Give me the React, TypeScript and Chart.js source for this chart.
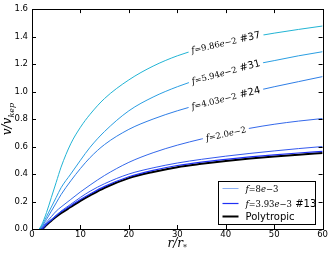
import React, { useEffect, useRef } from 'react';
import { Chart, registerables } from 'chart.js';
Chart.register(...registerables);

// radius r / r_*
const rValues = [1.5, 2, 3, 4, 5, 6, 8, 10, 12, 15, 20, 25, 30, 35, 40, 45, 50, 55, 60];
// v / v_kep for each model
const vF37 = [0, 0.03, 0.12, 0.23, 0.34, 0.45, 0.62, 0.74, 0.835, 0.95, 1.085, 1.185, 1.26, 1.315, 1.36, 1.395, 1.425, 1.452, 1.477];
const vF31 = [0, 0.02, 0.09, 0.16, 0.23, 0.3, 0.4, 0.5, 0.595, 0.71, 0.86, 0.96, 1.035, 1.095, 1.145, 1.19, 1.225, 1.26, 1.29];
const vF24 = [0, 0.015, 0.07, 0.13, 0.19, 0.25, 0.35, 0.44, 0.52, 0.615, 0.725, 0.8, 0.86, 0.91, 0.955, 0.995, 1.035, 1.072, 1.109];
const vF20 = [0, 0.01, 0.05, 0.09, 0.13, 0.16, 0.215, 0.27, 0.32, 0.39, 0.485, 0.555, 0.61, 0.655, 0.697, 0.733, 0.762, 0.785, 0.804];
const vF8 = [0, 0.005, 0.04, 0.07, 0.1, 0.13, 0.18, 0.23, 0.275, 0.33, 0.4, 0.445, 0.48, 0.507, 0.53, 0.55, 0.568, 0.585, 0.6];
const vF13 = [0, 0, 0.035, 0.065, 0.097, 0.125, 0.17, 0.215, 0.255, 0.31, 0.38, 0.427, 0.462, 0.487, 0.507, 0.525, 0.54, 0.553, 0.565];
const vPoly = [0, 0, 0.03, 0.06, 0.09, 0.115, 0.16, 0.205, 0.245, 0.3, 0.37, 0.415, 0.45, 0.474, 0.495, 0.513, 0.528, 0.541, 0.553];

const xTicks = [0, 10, 20, 30, 40, 50, 60];
const yTicks = [0, 0.2, 0.4, 0.6, 0.8, 1.0, 1.2, 1.4, 1.6];

const SERIF = '"DejaVu Serif", serif';
const SANS = '"DejaVu Sans", sans-serif';

type Part = { t: string; font: string; dy?: number };

const mathLabel = (num: string, exp: string, tag?: string): Part[] => {
  const p: Part[] = [
    { t: 'f', font: `italic 9px ${SERIF}` },
    { t: '=', font: `8px ${SERIF}` },
    { t: num, font: `8.5px ${SERIF}` },
    { t: 'e', font: `italic 8.5px ${SERIF}` },
    { t: '\u2212' + exp, font: `8.5px ${SERIF}` },
  ];
  if (tag) p.push({ t: ' ' + tag, font: `10px ${SANS}` });
  return p;
};

const series = [
  { values: vF37, color: '#22b4d4', width: 1, label: mathLabel('9.86', '2', '#37'), at: 40 },
  { values: vF31, color: '#2a9ee2', width: 1, label: mathLabel('5.94', '2', '#31'), at: 40 },
  { values: vF24, color: '#2e7ee6', width: 1, label: mathLabel('4.03', '2', '#24'), at: 40 },
  { values: vF20, color: '#3468ea', width: 1, label: mathLabel('2.0', '2'), at: 40 },
  { values: vF8, color: '#3358ee', width: 1, label: null, at: 0 },
  { values: vF13, color: '#1f30f5', width: 1.2, label: null, at: 0 },
  { values: vPoly, color: '#000000', width: 2, label: null, at: 0 },
];

const legendItems = [
  { parts: mathLabel('8', '3'), color: '#8cb0f4', width: 1 },
  { parts: mathLabel('3.93', '3', '#13'), color: '#1f30f5', width: 1.2 },
  { parts: [{ t: 'Polytropic', font: `10px ${SANS}` }] as Part[], color: '#000000', width: 2 },
];

function interp(r: number, vals: number[]) {
  for (let i = 0; i < rValues.length - 1; i++) {
    if (r >= rValues[i] && r <= rValues[i + 1]) {
      const t = (r - rValues[i]) / (rValues[i + 1] - rValues[i]);
      return vals[i] + t * (vals[i + 1] - vals[i]);
    }
  }
  return vals[vals.length - 1];
}

function measure(ctx: CanvasRenderingContext2D, parts: Part[]) {
  let w = 0;
  for (const p of parts) {
    ctx.font = p.font;
    w += ctx.measureText(p.t).width;
  }
  return w;
}

function drawParts(ctx: CanvasRenderingContext2D, parts: Part[], x: number, y: number) {
  let cx = x;
  for (const p of parts) {
    ctx.font = p.font;
    ctx.fillText(p.t, cx, y + (p.dy || 0));
    cx += ctx.measureText(p.t).width;
  }
}

const overlay = {
  id: 'overlay',
  afterDatasetsDraw(chart: any) {
    const { ctx, scales } = chart;
    const xs = scales.x;
    const ys = scales.y;
    for (const s of series) {
      if (!s.label) continue;
      const v = interp(s.at, s.values);
      const cx = xs.getPixelForValue(s.at);
      const cy = ys.getPixelForValue(v);
      const x1 = xs.getPixelForValue(s.at - 5);
      const x2 = xs.getPixelForValue(s.at + 5);
      const y1 = ys.getPixelForValue(interp(s.at - 5, s.values));
      const y2 = ys.getPixelForValue(interp(s.at + 5, s.values));
      const ang = Math.atan2(y2 - y1, x2 - x1);
      ctx.save();
      ctx.translate(cx, cy);
      ctx.rotate(ang);
      const w = measure(ctx, s.label);
      ctx.fillStyle = '#ffffff';
      ctx.fillRect(-w / 2 - 3, -6, w + 6, 12);
      ctx.fillStyle = '#000000';
      ctx.textBaseline = 'alphabetic';
      ctx.textAlign = 'left';
      drawParts(ctx, s.label, -w / 2, 3.5);
      ctx.restore();
    }
  },
  afterDraw(chart: any) {
    const { ctx, chartArea: a, scales } = chart;
    const xs = scales.x;
    const ys = scales.y;
    ctx.save();
    // frame
    ctx.strokeStyle = '#000';
    ctx.lineWidth = 1;
    ctx.strokeRect(Math.round(a.left) + 0.5, Math.round(a.top) + 0.5, Math.round(a.right - a.left), Math.round(a.bottom - a.top));
    // inside ticks
    ctx.beginPath();
    for (const t of xTicks) {
      const x = Math.round(xs.getPixelForValue(t)) + 0.5;
      ctx.moveTo(x, a.bottom);
      ctx.lineTo(x, a.bottom - 4);
      ctx.moveTo(x, a.top);
      ctx.lineTo(x, a.top + 4);
    }
    for (const t of yTicks) {
      const y = Math.round(ys.getPixelForValue(t)) + 0.5;
      ctx.moveTo(a.left, y);
      ctx.lineTo(a.left + 4, y);
      ctx.moveTo(a.right, y);
      ctx.lineTo(a.right - 4, y);
    }
    ctx.stroke();

    // legend
    const bw = 97;
    const bh = 43;
    const bx = Math.round(a.right - 8 - bw) + 0.5;
    const by = Math.round(a.bottom - 5 - bh) + 0.5;
    ctx.fillStyle = '#ffffff';
    ctx.fillRect(bx, by, bw, bh);
    ctx.strokeStyle = '#000';
    ctx.lineWidth = 1;
    ctx.strokeRect(bx, by, bw, bh);
    const rows = [7, 22, 35];
    legendItems.forEach((it, i) => {
      const y = by + rows[i];
      ctx.strokeStyle = it.color;
      ctx.lineWidth = it.width;
      ctx.beginPath();
      ctx.moveTo(bx + 4, y);
      ctx.lineTo(bx + 20, y);
      ctx.stroke();
      ctx.fillStyle = '#000';
      ctx.textBaseline = 'alphabetic';
      ctx.textAlign = 'left';
      drawParts(ctx, it.parts, bx + 27, y + 3.5);
    });

    // axis titles
    ctx.fillStyle = '#000';
    ctx.textBaseline = 'alphabetic';
    ctx.textAlign = 'left';
    const yTitle: Part[] = [
      { t: 'v/v', font: `italic 12px ${SERIF}` },
      { t: 'kep', font: `italic 8px ${SERIF}`, dy: 2.5 },
    ];
    const cyT = (a.top + a.bottom) / 2;
    ctx.save();
    ctx.translate(11, cyT);
    ctx.rotate(-Math.PI / 2);
    const wy = measure(ctx, yTitle);
    drawParts(ctx, yTitle, -wy / 2, 0);
    ctx.restore();

    const xTitle: Part[] = [
      { t: 'r/r', font: `italic 12px ${SERIF}` },
      { t: '*', font: `8px ${SERIF}`, dy: 3.5 },
    ];
    const wx = measure(ctx, xTitle);
    drawParts(ctx, xTitle, (a.left + a.right) / 2 - wx / 2, 246.5);
    ctx.restore();
  },
};

export default function App() {
  const ref = useRef<HTMLCanvasElement | null>(null);
  useEffect(() => {
    if (!ref.current) return;
    const chart = new Chart(ref.current, {
      type: 'line',
      data: {
        datasets: series.map((s) => ({
          data: rValues.map((r, i) => ({ x: r, y: s.values[i] })),
          borderColor: s.color,
          borderWidth: s.width,
          pointRadius: 0,
          fill: false,
          cubicInterpolationMode: 'monotone' as const,
        })),
      },
      options: {
        responsive: false,
        animation: false,
        devicePixelRatio: 1,
        layout: { padding: { top: 3, right: 6, left: 0, bottom: 0 } },
        plugins: { legend: { display: false }, tooltip: { enabled: false } },
        scales: {
          x: {
            type: 'linear',
            min: 0,
            max: 60,
            afterFit: (s: any) => {
              s.height = 26;
            },
            afterBuildTicks: (s: any) => {
              s.ticks = xTicks.map((v) => ({ value: v }));
            },
            ticks: {
              color: '#000',
              font: { family: 'DejaVu Sans', size: 8.5 },
              padding: 1,
              maxRotation: 0,
              callback: (v: any) => String(v),
            },
            grid: { display: false, drawTicks: false },
            border: { display: false },
          },
          y: {
            type: 'linear',
            min: 0,
            max: 1.6,
            afterFit: (s: any) => {
              s.width = 32;
            },
            afterBuildTicks: (s: any) => {
              s.ticks = yTicks.map((v) => ({ value: v }));
            },
            ticks: {
              color: '#000',
              font: { family: 'DejaVu Sans', size: 8.5 },
              padding: 4,
              callback: (v: any) => Number(v).toFixed(1),
            },
            grid: { display: false, drawTicks: false },
            border: { display: false },
          },
        },
      },
      plugins: [overlay],
    });
    return () => chart.destroy();
  }, []);
  return (
    <div style={{ position: 'fixed', left: 0, top: 0, width: 329, height: 255, background: '#fff' }}>
      <canvas ref={ref} width={329} height={255} />
    </div>
  );
}
